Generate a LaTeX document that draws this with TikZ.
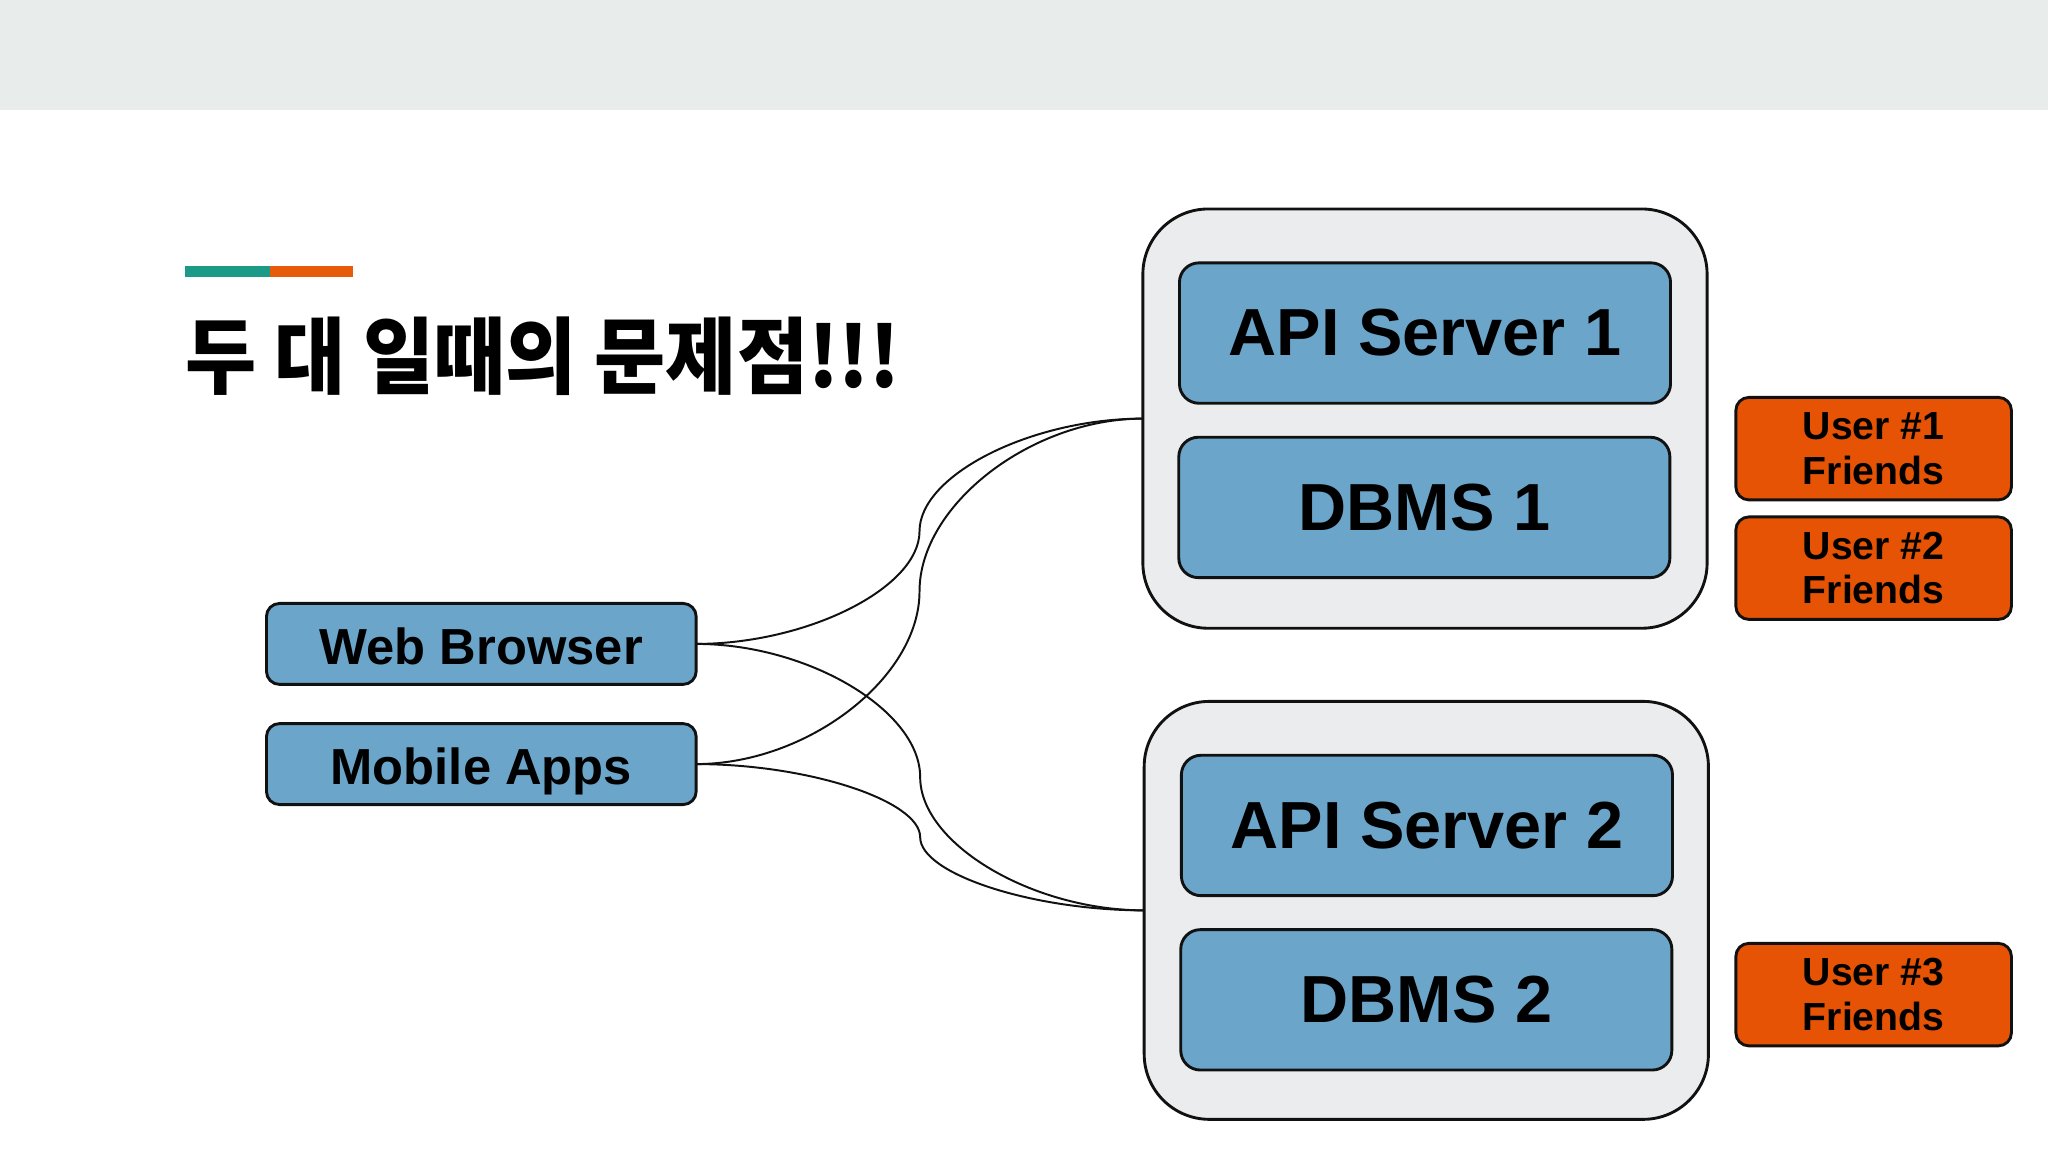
\documentclass[tikz,border=0pt]{standalone}
\usepackage{fontspec}
\setmainfont{Liberation Sans}
\newfontfamily\krfont{Noto Sans CJK KR}
\usetikzlibrary{calc}
\definecolor{hdr}{HTML}{E8ECEA}
\definecolor{barteal}{HTML}{1B9A88}
\definecolor{barorange}{HTML}{E65C0A}
\definecolor{contfill}{HTML}{EAECEE}
\definecolor{boxblue}{HTML}{6BA5CA}
\definecolor{boxorange}{HTML}{E65305}
\definecolor{ink}{HTML}{111111}
\tikzset{
  base/.style={draw=ink, line width=1.1pt, inner sep=0pt, outer sep=0pt, align=center, text=black},
  container/.style={base, fill=contfill, rounded corners=25pt},
  bigbox/.style={base, fill=boxblue, rounded corners=7.5pt, minimum width=188pt, minimum height=53.75pt, font=\fontsize{25.5pt}{30pt}\selectfont\bfseries},
  clientbox/.style={base, fill=boxblue, rounded corners=5pt, minimum width=164.5pt, minimum height=31pt, text height=16pt, text depth=0pt, font=\fontsize{19.4pt}{23pt}\selectfont\bfseries},
  userbox/.style={base, fill=boxorange, rounded corners=5pt, minimum width=105.5pt, minimum height=39.25pt, font=\fontsize{15pt}{17pt}\selectfont\bfseries},
  conn/.style={draw=ink, line width=0.75pt}
}
\newcommand\sconn[2]{\draw[conn] let \p1=(#1), \p2=(#2) in (\p1) .. controls ({0.75*\x1+0.25*\x2},\y1) and ({0.5*\x1+0.5*\x2},{0.75*\y1+0.25*\y2}) .. ({0.5*\x1+0.5*\x2},{0.5*\y1+0.5*\y2}) .. controls ({0.5*\x1+0.5*\x2},{0.25*\y1+0.75*\y2}) and ({0.25*\x1+0.75*\x2},\y2) .. (\p2);}
\begin{document}
\begin{tikzpicture}[x=0.5pt, y=-0.5pt]
\useasboundingbox (0,0) rectangle (1568,882);
\fill[white] (0,0) rectangle (1568,882);
\fill[hdr] (0,0) rectangle (1568,84);
\fill[barteal] (142,204) rectangle (207,212);
\fill[barorange] (207,204) rectangle (270,212);
\node[anchor=base west, inner sep=0pt] (title) at (142,297) {\scalebox{0.925}[1]{\krfont\bfseries\fontsize{32pt}{38pt}\selectfont 두 대 일때의 문제점!!!}};

\node[container, minimum width=216pt, minimum height=160.5pt] (c1) at (1091,320.5) {};
\node[container, minimum width=216pt, minimum height=160pt] (c2) at (1092,697) {};
\node[bigbox] (api1) at (1091,255) {API Server 1};
\node[bigbox] (db1) at (1090.5,388.5) {DBMS 1};
\node[bigbox] (api2) at (1092.5,632) {API Server 2};
\node[bigbox] (db2) at (1092,765.5) {DBMS 2};
\node[userbox] (u1) at (1434.5,343.5) {User \#1\\Friends};
\node[userbox] (u2) at (1434.5,435) {User \#2\\Friends};
\node[userbox] (u3) at (1434.5,761.5) {User \#3\\Friends};
\node[clientbox] (web) at (368.5,493) {Web Browser};
\node[clientbox] (mob) at (368.5,585) {Mobile Apps};

\sconn{web.east}{c1.west}
\sconn{mob.east}{c1.west}
\sconn{web.east}{c2.west}
\sconn{mob.east}{c2.west}
\end{tikzpicture}
\end{document}
